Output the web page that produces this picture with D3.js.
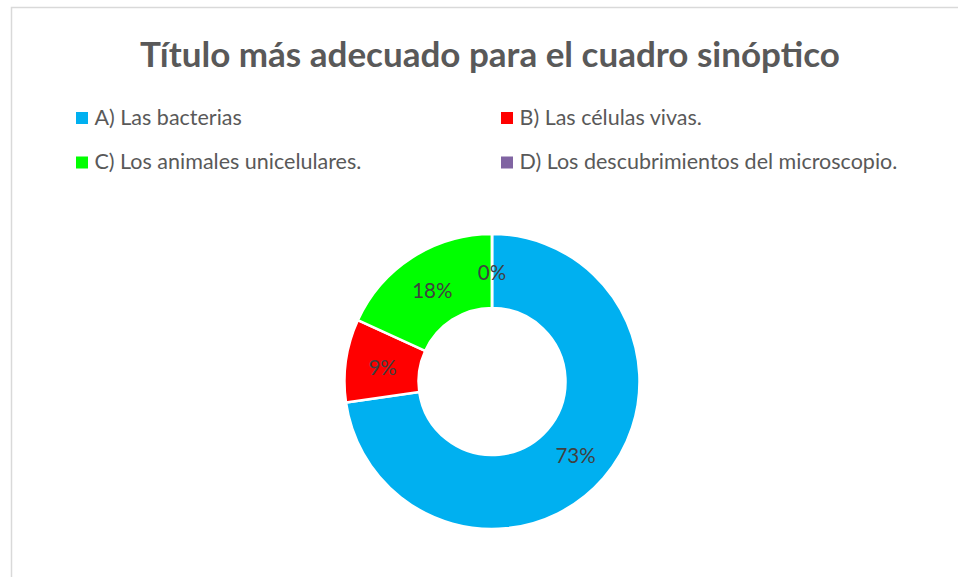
<!DOCTYPE html>
<html>
<head>
<meta charset="utf-8">
<script src="https://cdn.jsdelivr.net/npm/d3@7"></script>
<style>
  body { margin: 0; background: #fff; }
  svg { display: block; font-family: Lato, "Open Sans", sans-serif; }
</style>
</head>
<body>
<div id="chart"></div>
<script>
const categories = [
  "A) Las bacterias",
  "B) Las células vivas.",
  "C) Los animales unicelulares.",
  "D) Los descubrimientos del microscopio."
];
const counts = [8, 1, 2, 0];
const colors = ["#00B0F0", "#FF0000", "#00FF00", "#8064A2"];
const title = "Título más adecuado para el cuadro sinóptico";

let width = 958;
let height = 577;

let data = categories.map((c, i) => ({ name: c, value: counts[i], color: colors[i] }));
let total = d3.sum(counts);
let format = d3.format(".0%");

let svg = d3
  .select("#chart")
  .append("svg")
  .attr("width", width)
  .attr("height", height);

// chart area border (only top and left visible)
svg.append("path")
  .attr("d", "M11.5," + height + "V7.5H" + width)
  .attr("fill", "none")
  .attr("stroke", "#D9D9D9")
  .attr("stroke-width", 1.5);

svg.append("text")
  .attr("x", 490)
  .attr("y", 67)
  .attr("text-anchor", "middle")
  .attr("font-size", 35)
  .attr("font-weight", "bold")
  .attr("fill", "#595959")
  .text(title);

// Legend
let legend = svg.selectAll(".legend")
  .data(data)
  .enter().append("g")
  .attr("class", "legend")
  .attr("transform", (d, i) =>
    "translate(" + (i % 2 === 0 ? 76 : 501) + "," + (112 + Math.floor(i / 2) * 44.5) + ")");

legend.append("rect")
  .attr("width", 12)
  .attr("height", 12)
  .attr("fill", (d) => d.color);

legend.append("text")
  .attr("x", 18.5)
  .attr("y", 12.5)
  .attr("font-size", 21.5)
  .attr("fill", "#595959")
  .text((d) => d.name);

// Donut
let cx = 492, cy = 381.5;
let outerR = 147.5, innerR = 73.5;

let pie = d3.pie().value((d) => d.value).sort(null);
let arc = d3.arc().innerRadius(innerR).outerRadius(outerR);
let labelArc = d3.arc().innerRadius((innerR + outerR) / 2).outerRadius((innerR + outerR) / 2);

let g = svg.append("g").attr("transform", "translate(" + cx + "," + cy + ")");
let arcs = pie(data);

g.selectAll("path.slice")
  .data(arcs)
  .enter().append("path")
  .attr("class", "slice")
  .attr("d", arc)
  .attr("fill", (d) => d.data.color)
  .attr("stroke", "#fff")
  .attr("stroke-width", 2.5);

g.selectAll("text.lbl")
  .data(arcs)
  .enter().append("text")
  .attr("class", "lbl")
  .attr("transform", (d) => "translate(" + labelArc.centroid(d) + ")")
  .attr("text-anchor", "middle")
  .attr("dy", "0.45em")
  .attr("font-size", 20.5)
  .attr("fill", "#404040")
  .text((d) => format(d.data.value / total));
</script>
</body>
</html>
